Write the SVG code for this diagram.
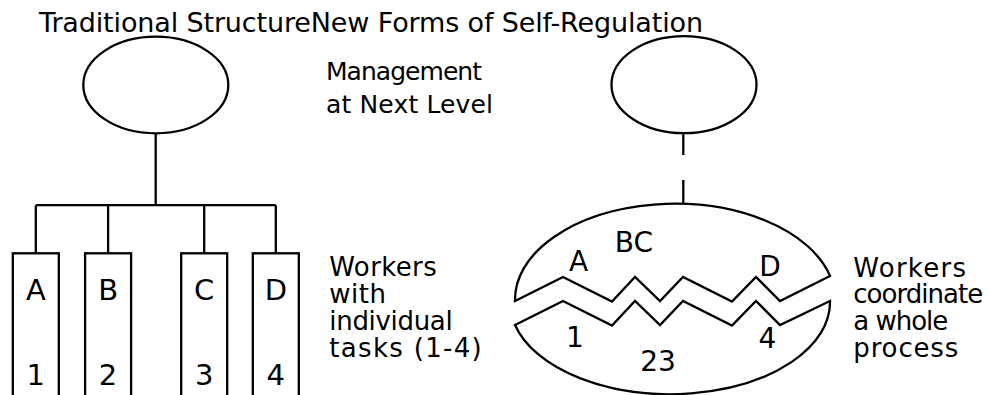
<svg xmlns="http://www.w3.org/2000/svg" width="989" height="395" viewBox="0 0 989 395">
<style>
.s{fill:none;stroke:#000;stroke-width:2.3}
.w{fill:#fff;stroke:#000;stroke-width:2.3}
text{font-family:"DejaVu Sans",Verdana,sans-serif;fill:#000}
.t{font-size:27px}
.m{font-size:25px}
.l{font-size:26px}
.b{font-size:29px;text-anchor:middle}
.e{font-size:28px;text-anchor:middle}
</style>
<rect width="989" height="395" fill="#fff"/>
<text id="title" class="t" x="39" y="32" textLength="664">Traditional StructureNew Forms of Self-Regulation</text>
<g id="connectors">
<path class="s" d="M155.7 133.3V205.2M35.8 205.2H275.8M35.8 205.2V253.3M108.1 205.2V253.3M204.2 205.2V253.3M275.8 205.2V253.3"/>
<path class="s" d="M683.3 133V155M683.3 180V203.5"/>
</g>
<g id="mgmt-left"><ellipse class="w" cx="155.8" cy="85" rx="72.5" ry="48.3"/></g>
<g id="mgmt-right"><ellipse class="w" cx="684" cy="84.7" rx="72.5" ry="48.5"/></g>
<g id="mgmt-label">
<text class="m"><tspan x="326" y="80" textLength="156">Management</tspan><tspan x="326" y="113" textLength="167">at Next Level</tspan></text>
</g>
<g id="worker-A"><rect class="w" x="12.8" y="253.3" width="46" height="170"/><text class="b" x="35.8" y="300">A</text><text class="b" x="35.8" y="385">1</text></g>
<g id="worker-B"><rect class="w" x="85.1" y="253.3" width="46" height="170"/><text class="b" x="108.1" y="300">B</text><text class="b" x="108.1" y="385">2</text></g>
<g id="worker-C"><rect class="w" x="181.2" y="253.3" width="46" height="170"/><text class="b" x="204.2" y="300">C</text><text class="b" x="204.2" y="385">3</text></g>
<g id="worker-D"><rect class="w" x="252.8" y="253.3" width="46" height="170"/><text class="b" x="275.8" y="300">D</text><text class="b" x="275.8" y="385">4</text></g>
<g id="label-left">
<text class="l"><tspan x="329.3" y="276" textLength="107.4">Workers</tspan><tspan x="329.3" y="303.3" textLength="56.7">with</tspan><tspan x="329.3" y="330" textLength="123.4">individual</tspan><tspan x="329.3" y="356.7" textLength="152.4">tasks (1-4)</tspan></text>
</g>
<g id="team">
<path class="w" d="M515 301L563 277L612 301.5L635 277L660 301L683 277L732 301.5L756 277L780 301L830 276A160 96 0 0 0 515 301Z"/>
<path class="w" d="M515 325L563 301L612 325.5L635 301L660 325L683 301L732 325.5L756 301L780 325L830 301A160 92 0 0 1 515 325Z"/>
<text class="e" x="578.5" y="271">A</text>
<text class="e" x="634" y="252">BC</text>
<text class="e" x="770" y="276">D</text>
<text class="e" x="575" y="347.3">1</text>
<text class="e" x="658" y="371">23</text>
<text class="e" x="767.5" y="348.3">4</text>
</g>
<g id="label-right">
<text class="l"><tspan x="853.3" y="276.7" textLength="112.7">Workers</tspan><tspan x="853.3" y="303.3" textLength="130">coordinate</tspan><tspan x="853.3" y="330" textLength="95">a whole</tspan><tspan x="853.3" y="356.7" textLength="105">process</tspan></text>
</g>
</svg>
